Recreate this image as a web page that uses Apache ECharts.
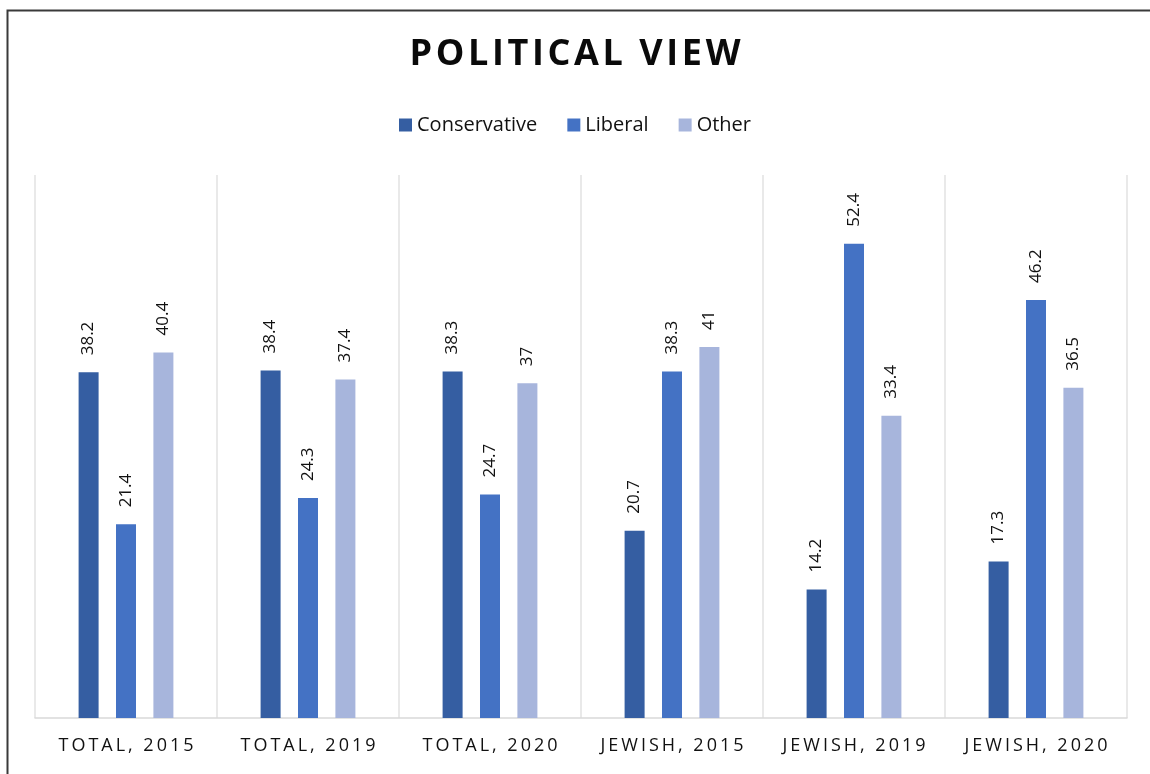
<!DOCTYPE html>
<html>
<head>
<meta charset="utf-8">
<script src="https://cdn.jsdelivr.net/npm/echarts@6/dist/echarts.min.js"></script>
<style>
  html, body { margin: 0; padding: 0; background: #fff; }
  #chart { width: 1150px; height: 774px; }
</style>
</head>
<body>
<div id="chart"></div>
<script>
// 数据
var categories = ['TOTAL, 2015', 'TOTAL, 2019', 'TOTAL, 2020', 'JEWISH, 2015', 'JEWISH, 2019', 'JEWISH, 2020'];
var conservative = [38.2, 38.4, 38.3, 20.7, 14.2, 17.3];
var liberal = [21.4, 24.3, 24.7, 38.3, 52.4, 46.2];
var other = [40.4, 37.4, 37, 41, 33.4, 36.5];

var FONT = '"Open Sans", "Liberation Sans", sans-serif';

// 字母间距：用细空格隔开
function spaced(s, sp) {
    return s.split('').join(sp);
}

var chart = echarts.init(document.getElementById('chart'));

function barSeries(name, data, color) {
    return {
        type: 'bar',
        name: name,
        data: data,
        barWidth: 20,
        barGap: '87%',
        itemStyle: { color: color },
        label: {
            show: true,
            position: 'top',
            rotate: 90,
            align: 'left',
            verticalAlign: 'middle',
            distance: 17,
            color: '#111',
            fontSize: 17,
            fontFamily: FONT
        }
    };
}

var option = {
    backgroundColor: '#fff',
    animation: false,
    title: {
        text: spaced('POLITICAL VIEW', '\u200A'),
        left: 'center',
        top: 32,
        textStyle: {
            fontSize: 36,
            fontWeight: 'bold',
            color: '#0a0a0a',
            fontFamily: FONT
        }
    },
    legend: {
        top: 110,
        left: 'center',
        itemWidth: 13,
        itemHeight: 13,
        itemGap: 30,
        icon: 'rect',
        textStyle: { fontSize: 20, color: '#111', fontFamily: FONT }
    },
    grid: { left: 35, right: 23, top: 175, bottom: 56 },
    xAxis: {
        type: 'category',
        data: categories,
        axisLine: { lineStyle: { color: '#d9d9d9', width: 1.5 } },
        axisTick: { show: false, interval: 0 },
        splitLine: { show: true, interval: 0, lineStyle: { color: '#e2e2e2', width: 1.5 } },
        axisLabel: {
            interval: 0,
            hideOverlap: false,
            margin: 19,
            fontSize: 18,
            color: '#111',
            fontFamily: FONT,
            formatter: function (v) { return spaced(v, '\u2009'); }
        }
    },
    yAxis: {
        type: 'value',
        min: 0,
        max: 60,
        show: false,
        splitLine: { show: false }
    },
    graphic: [{
        type: 'rect',
        left: 5,
        top: 8,
        shape: { width: 1200, height: 800 },
        style: { fill: 'none', stroke: '#3a3a3a', lineWidth: 2 },
        silent: true
    }],
    series: [
        barSeries('Conservative', conservative, '#355ea2'),
        barSeries('Liberal', liberal, '#4472c4'),
        barSeries('Other', other, '#a7b5dc')
    ]
};

chart.setOption(option);
</script>
</body>
</html>
